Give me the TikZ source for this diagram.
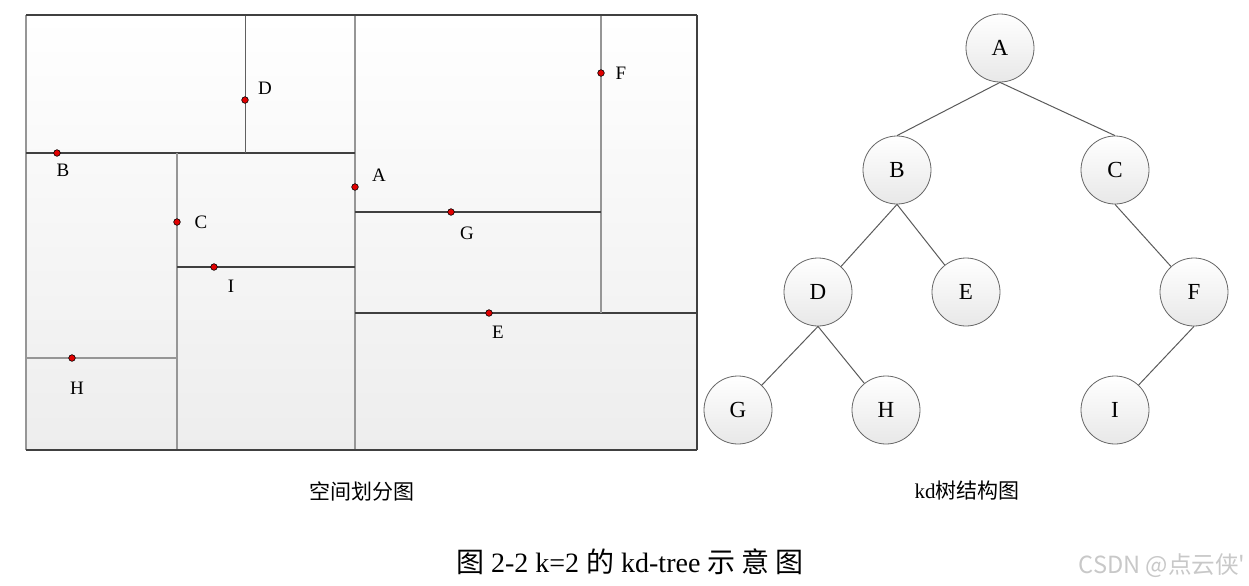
\documentclass[tikz,border=0pt]{standalone}
\usepackage{fontspec}
\setmainfont{Liberation Serif}
\newfontfamily\cjk{Noto Sans CJK SC}
\usetikzlibrary{positioning}
\definecolor{splitdark}{RGB}{64,64,64}
\definecolor{splitgray}{RGB}{150,150,150}
\definecolor{ptred}{RGB}{225,0,0}
\definecolor{linkgray}{RGB}{90,90,90}
\definecolor{wmgray}{RGB}{200,200,200}

\begin{document}
\begin{tikzpicture}[x=0.5pt, y=-0.5pt,
  every node/.style={font=\fontsize{9.5}{11}\selectfont},
  hsplit/.style={draw=splitdark, line width=1pt},
  vsplit/.style={draw=splitgray, line width=1pt},
  kdpt/.style={circle, draw=black, fill=ptred, line width=0.3pt, inner sep=0pt, minimum size=3.3pt},
  tnode/.style={circle, draw=gray!80!black, top color=white, bottom color=gray!18, minimum size=34pt, inner sep=0pt, font=\fontsize{11.5}{13}\selectfont},
  tlink/.style={draw=linkgray, line width=0.5pt}]
 \useasboundingbox (0,0) rectangle (1249,585);

 % space partition
 \shade[top color=white, bottom color=gray!14] (26,15) rectangle (697,450);
 \draw[vsplit] (26,15) -- (26,450);
 \draw[splitdark, line width=0.7pt] (697,15) -- (697,450);
 \draw[vsplit] (355,15) -- (355,450);
 \draw[hsplit] (26,153) -- (355,153);
 \draw[gray!75!black, line width=0.5pt] (245,15) -- (245,153);
 \draw[vsplit] (177,153) -- (177,450);
 \draw[hsplit] (177,267) -- (355,267);
 \draw[splitgray, line width=0.6pt] (26,358) -- (177,358);
 \draw[hsplit] (355,313) -- (697,313);
 \draw[vsplit] (601,15) -- (601,313);
 \draw[hsplit] (355,212) -- (601,212);
 \draw[hsplit] (26,15) -- (697,15);
 \draw[hsplit] (26,450) -- (697,450);
 \foreach \n/\x/\y/\lx/\ly in {A/355/187/379/175, B/57/153/63/170, C/177/222/201/222,
   D/245/100/265/88, E/489/313/498/332, F/601/73/621/73, G/451/212/467/233,
   H/72/358/77/388, I/214/267/231/286}
 {
  \node[kdpt] (p\n) at (\x,\y) {};
  \node (l\n) at (\lx,\ly) {\n};
 }

 % kd tree
 \node[tnode] (A) at (1000,48) {A};
 \node[tnode] (B) at (897,170) {B};
 \node[tnode] (C) at (1115,170) {C};
 \node[tnode] (D) at (818,292) {D};
 \node[tnode] (E) at (966,292) {E};
 \node[tnode] (F) at (1194,292) {F};
 \node[tnode] (G) at (738,410) {G};
 \node[tnode] (H) at (886,410) {H};
 \node[tnode] (I) at (1115,410) {I};
 \draw[tlink] (A.south) -- (B.north);
 \draw[tlink] (A.south) -- (C.north);
 \foreach \p/\c in {B/D, B/E, C/F, D/G, D/H, F/I}
  \draw[tlink] (\p.south) -- (\c);

 % captions
 \node[font=\cjk\fontsize{10.5}{12}\selectfont] (capL) at (362,491) {空间划分图};
 \node[font=\fontsize{10.5}{12}\selectfont] (capR) at (967,491) {kd{\cjk 树结构图}};
 \node[font=\fontsize{14}{16}\selectfont] (title) at (630,562)
  {{\cjk 图} 2-2 k=2 {\cjk 的} kd-tree {\cjk 示 意 图}};
 \node[text=wmgray, font=\cjk\fontsize{11.8}{13}\selectfont] (wm) at (1162,566) {CSDN @点云侠'};
\end{tikzpicture}
\end{document}
